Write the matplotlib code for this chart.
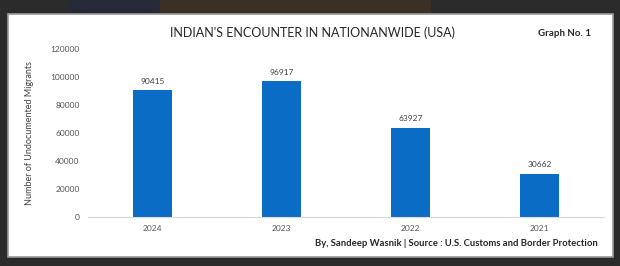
import matplotlib.pyplot as plt
from matplotlib.patches import Rectangle

years = ['2024', '2023', '2022', '2021']
encounters = [90415, 96917, 63927, 30662]
y_ticks = [0, 20000, 40000, 60000, 80000, 100000, 120000]

plt.rcParams['font.family'] = ['Lato', 'DejaVu Sans']

fig = plt.figure(figsize=(6.2, 2.66), dpi=100)
fig.patch.set_facecolor('#2b2b2b')

# screenshot framing: blurred strip on top and the white panel
fig.patches.append(Rectangle((70 / 620, 1 - 14 / 266), 90 / 620, 14 / 266,
                             transform=fig.transFigure, color='#262a38', zorder=0))
fig.patches.append(Rectangle((160 / 620, 1 - 14 / 266), 270 / 620, 14 / 266,
                             transform=fig.transFigure, color='#3a3026', zorder=0))
fig.patches.append(Rectangle((8 / 620, 1 - 257 / 266), 605 / 620, 243 / 266,
                             transform=fig.transFigure, facecolor='white',
                             edgecolor='#9a9a9a', lw=1.2, zorder=0))

ax = fig.add_axes([88 / 620, 1 - 217 / 266, 516 / 620, 168 / 266])
ax.set_zorder(2)
ax.set_facecolor('none')
bars = ax.bar(years, encounters, width=0.31, color='#0a6cc4')
for b, v in zip(bars, encounters):
    ax.text(b.get_x() + b.get_width() / 2, v + 4000, str(v),
            ha='center', va='bottom', fontsize=6, color='#404040')

ax.set_ylim(0, 120000)
ax.set_xlim(-0.5, 3.5)
ax.set_yticks(y_ticks)
ax.set_yticklabels([str(t) for t in y_ticks])
ax.tick_params(axis='both', length=0, labelsize=6, colors='#555555', pad=6)
for s in ['top', 'right', 'left']:
    ax.spines[s].set_visible(False)
ax.spines['bottom'].set_color('#d9d9d9')
ax.set_ylabel('Number of Undocumented Migrants', fontsize=6.5, color='#404040', labelpad=12)

fig.text(313 / 620, 1 - 33 / 266, "INDIAN'S ENCOUNTER IN NATIONANWIDE (USA)",
         ha='center', va='center', fontsize=9, color='#262626', zorder=3)
fig.text(591 / 620, 1 - 34 / 266, 'Graph No. 1', ha='right', va='center',
         fontsize=7, fontweight='bold', color='#262626', zorder=3)
fig.text(598 / 620, 1 - 243 / 266,
         'By, Sandeep Wasnik | Source : U.S. Customs and Border Protection',
         ha='right', va='center', fontsize=6.8, fontweight='bold', color='#262626', zorder=3)

fig.savefig('out.png', dpi=100, facecolor=fig.get_facecolor())
